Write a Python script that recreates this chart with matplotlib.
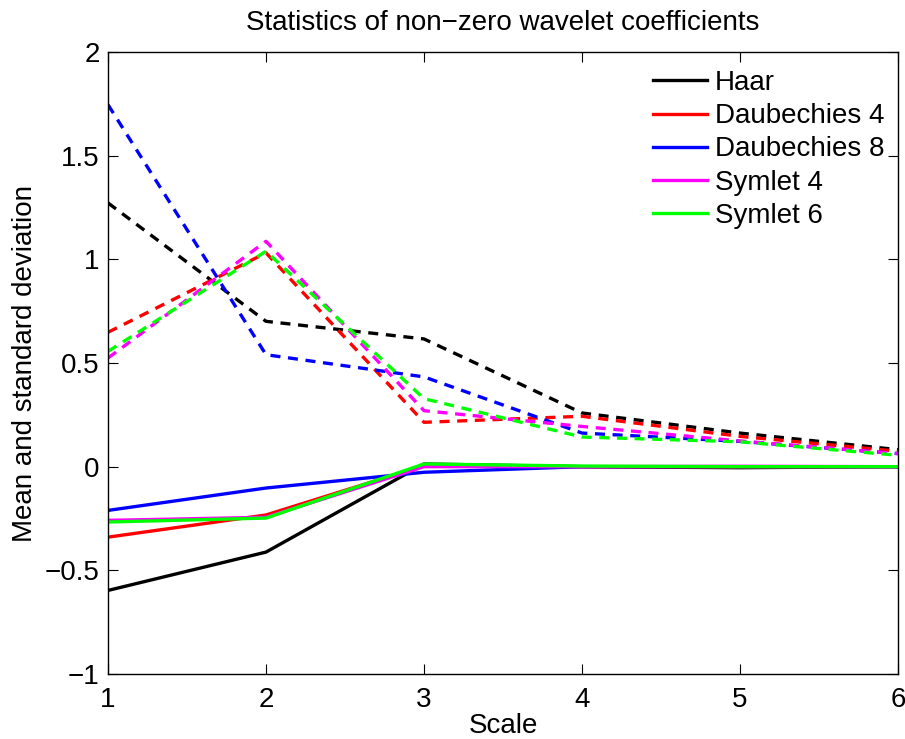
import matplotlib
matplotlib.use("Agg")
import matplotlib.pyplot as plt
from matplotlib.ticker import FuncFormatter

plt.rcParams['font.family'] = ['Liberation Sans', 'DejaVu Sans']

scales = [1, 2, 3, 4, 5, 6]
names = ["Haar", "Daubechies 4", "Daubechies 8", "Symlet 4", "Symlet 6"]
colors = ["#000000", "#ff0000", "#0000ff", "#ff00ff", "#00ff00"]

# Means (solid)
mean_haar = [-0.597, -0.412, 0.013, 0.0, -0.005, 0.0]
mean_db4 = [-0.340, -0.233, 0.005, 0.0, -0.002, 0.0]
mean_db8 = [-0.211, -0.103, -0.027, 0.0, 0.0, 0.0]
mean_sym4 = [-0.259, -0.244, 0.0, 0.0, 0.002, 0.0]
mean_sym6 = [-0.267, -0.248, 0.013, 0.003, 0.0, 0.0]

# Standard deviations (dashed)
std_haar = [1.272, 0.701, 0.616, 0.259, 0.162, 0.082]
std_db4 = [0.648, 1.031, 0.214, 0.243, 0.146, 0.074]
std_db8 = [1.746, 0.540, 0.433, 0.162, 0.122, 0.063]
std_sym4 = [0.524, 1.087, 0.270, 0.194, 0.124, 0.063]
std_sym6 = [0.556, 1.039, 0.328, 0.143, 0.120, 0.055]

means = [mean_haar, mean_db4, mean_db8, mean_sym4, mean_sym6]
stds = [std_haar, std_db4, std_db8, std_sym4, std_sym6]

yticks = [-1, -0.5, 0, 0.5, 1, 1.5, 2]

fig = plt.figure(figsize=(9.05, 7.39), dpi=100)
ax = fig.add_axes([108/905, 1-674/739, (898-108)/905, (674-52)/739])

lw = 2.4
for m, c, n in zip(means, colors, names):
    ax.plot(scales, m, color=c, lw=lw, label=n)
for s, c in zip(stds, colors):
    ax.plot(scales, s, color=c, lw=lw, linestyle=(0, (3.0, 2.3)))

ax.set_xlim(1, 6)
ax.set_ylim(-1, 2)
ax.set_xticks(scales)
ax.set_yticks(yticks)

def fmt(v, pos):
    s = ('%g' % v)
    return s.replace('-', '\u2212')

ax.yaxis.set_major_formatter(FuncFormatter(fmt))
ax.tick_params(direction='in', length=7, width=0.8, top=True, right=True,
               labelsize=20, colors='black')
ax.tick_params(axis='x', pad=9.5)
ax.tick_params(axis='y', pad=6)
for sp in ax.spines.values():
    sp.set_linewidth(1.0)

ax.set_title("Statistics of non\u2212zero wavelet coefficients", fontsize=20, pad=16)
ax.set_xlabel("Scale", fontsize=20, labelpad=0)
ax.set_ylabel("Mean and standard deviation", fontsize=20, labelpad=5)

leg = ax.legend(loc='upper left', bbox_to_anchor=(0.690, 0.971), frameon=False,
                fontsize=20, handlelength=1.95, handletextpad=0.27,
                labelspacing=0.26, borderaxespad=0.0, borderpad=0.0)

fig.savefig("out.png", dpi=100)
